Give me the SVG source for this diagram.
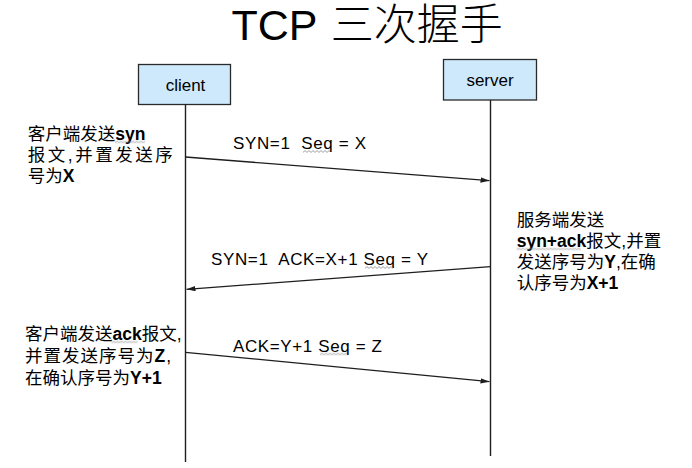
<svg xmlns="http://www.w3.org/2000/svg" width="692" height="468" viewBox="0 0 692 468">
<style>
.bg{fill:#ffffff}
.box{fill:#cde9fb;stroke:#2a2a2a;stroke-width:1.3}
.life{stroke:#1e1e1e;stroke-width:1.4;fill:none}
.msg{stroke:#1e1e1e;stroke-width:1.3;fill:none;marker-end:url(#arrow)}
.t{font-family:"Liberation Sans","Noto Sans CJK SC",sans-serif;fill:#000}
.title{font-size:43px}
.name{font-size:17px;text-anchor:middle}
.lbl{font-size:17px;white-space:pre}
.note{font-size:17.5px}
.b{font-weight:bold}
.sq{fill:url(#squiggle)}
</style>
<defs>
<marker id="arrow" viewBox="0 0 10 6" refX="10" refY="3" markerWidth="9" markerHeight="5.4" markerUnits="userSpaceOnUse" orient="auto">
<path d="M0,0 L10,3 L0,6 z" fill="#1e1e1e"/>
</marker>
<pattern id="squiggle" patternUnits="userSpaceOnUse" width="4" height="3">
<path d="M0,2.4 L2,0.6 L4,2.4" fill="none" stroke="#8a8a8a" stroke-width="0.8"/>
</pattern>
</defs>
<rect class="bg" x="0" y="0" width="692" height="468"/>

<g id="title">
<text class="t title" x="231.5" y="39.5">TCP <tspan font-weight="300" dx="2">三次握手</tspan></text>
</g>

<g id="client">
<rect class="box" x="138.5" y="64.5" width="92" height="40"/>
<text class="t name" x="185.5" y="91">client</text>
<line class="life" x1="185.5" y1="104.5" x2="185.5" y2="462"/>
</g>

<g id="server">
<rect class="box" x="443.5" y="59.5" width="93" height="40.5"/>
<text class="t name" x="490" y="86">server</text>
<line class="life" x1="490.5" y1="100" x2="490.5" y2="456"/>
</g>

<g id="connectors">
<line class="msg" x1="185.5" y1="157" x2="489.5" y2="180.7"/>
<line class="msg" x1="490.5" y1="266.7" x2="186.5" y2="289.3"/>
<line class="msg" x1="185.5" y1="352.3" x2="489.5" y2="381.7"/>
</g>

<g id="labels">
<text class="t lbl" x="233" y="149.3" textLength="133" lengthAdjust="spacing" xml:space="preserve">SYN=1  Seq = X</text>
<rect class="sq" transform="translate(303,150)" width="27" height="3"/>
<text class="t lbl" x="211" y="265" textLength="217" lengthAdjust="spacing" xml:space="preserve">SYN=1  ACK=X+1 Seq = Y</text>
<rect class="sq" transform="translate(365,266)" width="28" height="3"/>
<text class="t lbl" x="233" y="351.7" textLength="149" lengthAdjust="spacing" xml:space="preserve">ACK=Y+1 Seq = Z</text>
<rect class="sq" transform="translate(320,352.5)" width="27" height="3"/>
</g>

<g id="note-syn">
<text class="t note" x="27.7" y="139.5">客户端发送<tspan class="b">syn</tspan></text>
<rect class="sq" transform="translate(115,140.5)" width="30" height="3"/>
<text class="t note" x="27.7" y="160.5" textLength="145" lengthAdjust="spacing">报文,并置发送序</text>
<text class="t note" x="27.7" y="181.5">号为<tspan class="b">X</tspan></text>
</g>

<g id="note-synack">
<text class="t note" x="516.7" y="225.5">服务端发送</text>
<text class="t note" x="516.7" y="246.5"><tspan class="b">syn+ack</tspan>报文,并置</text>
<rect class="sq" transform="translate(516.7,247.5)" width="64" height="3"/>
<text class="t note" x="516.7" y="267.5">发送序号为<tspan class="b">Y</tspan>,在确</text>
<text class="t note" x="516.7" y="288.5">认序号为<tspan class="b">X+1</tspan></text>
</g>

<g id="note-ack">
<text class="t note" x="25" y="339.5">客户端发送<tspan class="b">ack</tspan>报文,</text>
<rect class="sq" transform="translate(111.5,340.5)" width="26" height="3"/>
<text class="t note" x="25" y="361.5" textLength="146" lengthAdjust="spacing">并置发送序号为<tspan class="b">Z</tspan>,</text>
<text class="t note" x="25" y="383.5">在确认序号为<tspan class="b">Y+1</tspan></text>
</g>
</svg>
